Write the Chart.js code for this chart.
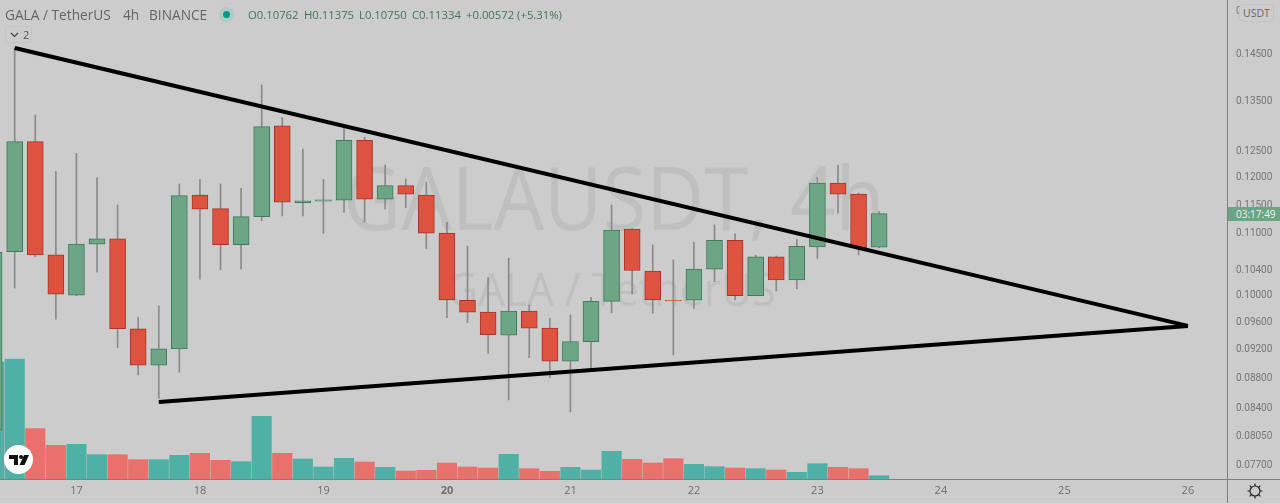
<!DOCTYPE html>
<html>
<head>
<meta charset="utf-8">
<title>GALA / TetherUS 4h</title>
<script src="https://cdn.jsdelivr.net/npm/chart.js@4/dist/chart.umd.min.js"></script>
<style>
    html, body { margin: 0; padding: 0; background: #cccccc; overflow: hidden; }
    body { width: 1280px; height: 504px; position: relative; font-family: "Open Sans", sans-serif; }
    canvas { position: absolute; left: 0; top: 0; z-index: 1; }
    .under { position: absolute; z-index: 0; white-space: nowrap; color: #bfbfbf; transform-origin: left center; }
    .over { position: absolute; z-index: 2; white-space: nowrap; }
    .head { top: 5px; font-size: 13.7px; line-height: 19px; color: #646464; }
    .ohlc { top: 6px; font-size: 11.3px; line-height: 17px; color: #3f7659; }
</style>
</head>
<body>
<div class="under" style="left:343px;top:146px;font-size:80px;line-height:100px;transform:scaleY(1.1);">GALAUSDT, 4h</div>
<div class="under" style="left:447px;top:259px;font-size:42.5px;line-height:60px;transform:scaleY(1.07);">GALA / TetherUS</div>

<canvas id="chart" width="1280" height="504"></canvas>

<div class="over" style="left:1227px;top:0;width:1px;height:504px;background:#7f7f7f;"></div>
<div class="over" style="left:0;top:479px;width:1280px;height:1px;background:#7f7f7f;"></div>
<div class="over" style="left:0;top:503px;width:1280px;height:1px;background:#d6d6d6;"></div>

<div class="over head" style="left:5px;">GALA / TetherUS</div>
<div class="over head" style="left:123px;">4h</div>
<div class="over head" style="left:149px;">BINANCE</div>
<div class="over" style="left:219px;top:7px;width:15px;height:15px;border-radius:50%;background:#b4c9c4;"></div>
<div class="over" style="left:223px;top:11px;width:7px;height:7px;border-radius:50%;background:#009e88;"></div>
<div class="over ohlc" style="left:248px;">O0.10762</div>
<div class="over ohlc" style="left:304px;">H0.11375</div>
<div class="over ohlc" style="left:359px;">L0.10750</div>
<div class="over ohlc" style="left:412px;">C0.11334</div>
<div class="over ohlc" style="left:466px;">+0.00572 (+5.31%)</div>

<div class="over" style="left:5px;top:26px;width:27px;height:17px;border:1px solid #c4c4c4;border-radius:3px;box-sizing:border-box;"></div>
<svg class="over" style="left:10px;top:31px;" width="10" height="8"><path d="M1 2 L4.5 5.5 L8 2" fill="none" stroke="#444" stroke-width="1.2"/></svg>
<div class="over" style="left:23px;top:27px;font-size:11px;line-height:15px;color:#555;">2</div>

<div class="over" style="left:1239px;top:4px;width:35px;height:18px;border:1px solid #c4c4c4;border-radius:4px;background:#cccccc;box-sizing:border-box;font-size:10.5px;line-height:17px;text-align:center;color:#666;">USDT</div>
<div class="over" style="left:1228px;top:207px;width:52px;height:14px;background:#6ba583;color:#f2f2f2;font-size:10px;line-height:14px;padding-left:8px;box-sizing:border-box;">03:17:49</div>

<svg class="over" style="left:4px;top:445px;" width="29" height="29" viewBox="0 0 29 29">
    <circle cx="14.5" cy="14.5" r="14.5" fill="#ffffff"/>
    <path d="M5 10 H14 V20 H10 V14 H5 Z" fill="#111"/>
    <circle cx="17" cy="12" r="2" fill="#111"/>
    <path d="M20 10 H25 L20.5 20 H15.5 Z" fill="#111"/>
</svg>
<svg class="over" style="left:1247px;top:483px;" width="16" height="16" viewBox="0 0 16 16">
    <circle cx="8" cy="8" r="5" fill="none" stroke="#222" stroke-width="1.2"/>
    <path d="M8 0.5 V3 M8 13 V15.5 M0.5 8 H3 M13 8 H15.5 M2.7 2.7 L4.4 4.4 M11.6 11.6 L13.3 13.3 M2.7 13.3 L4.4 11.6 M11.6 4.4 L13.3 2.7" stroke="#222" stroke-width="1.2"/>
</svg>

<script>
// candles start one slot before the first whole one, which sits cut off at the left edge
const opens = [0.08116, 0.10685, 0.12665, 0.10633, 0.09992, 0.10811, 0.10899, 0.09486, 0.08968, 0.09197, 0.11664, 0.11422, 0.10803, 0.11280, 0.12976, 0.11527, 0.11552, 0.11570, 0.12692, 0.11588, 0.11833, 0.11660, 0.10996, 0.09915, 0.09735, 0.09393, 0.09749, 0.09496, 0.09024, 0.09302, 0.09897, 0.11064, 0.10370, 0.09914, 0.09915, 0.10402, 0.10877, 0.09986, 0.10600, 0.10231, 0.10765, 0.11878, 0.11679, 0.10762];
const closes = [0.10680, 0.12665, 0.10633, 0.10008, 0.10811, 0.10899, 0.09490, 0.08968, 0.09197, 0.11652, 0.11411, 0.10803, 0.11280, 0.12962, 0.11534, 0.11557, 0.11575, 0.12692, 0.11588, 0.11833, 0.11679, 0.10996, 0.09920, 0.09735, 0.09402, 0.09749, 0.09496, 0.09024, 0.09302, 0.09900, 0.11049, 0.10380, 0.09920, 0.09904, 0.10402, 0.10877, 0.09986, 0.10600, 0.10231, 0.10777, 0.11878, 0.11679, 0.10753, 0.11334];
const highs = [0.10750, 0.14635, 0.13197, 0.12093, 0.12439, 0.11980, 0.11486, 0.09658, 0.09829, 0.11864, 0.11944, 0.11864, 0.11786, 0.13823, 0.13142, 0.12522, 0.11944, 0.12996, 0.12751, 0.12217, 0.11956, 0.11896, 0.11183, 0.10777, 0.10267, 0.10579, 0.09843, 0.09643, 0.09693, 0.09961, 0.11486, 0.11074, 0.10798, 0.10551, 0.10843, 0.11137, 0.10984, 0.10628, 0.10616, 0.10894, 0.11988, 0.12217, 0.11697, 0.11375];
const lows = [0.08000, 0.10100, 0.10605, 0.09629, 0.09985, 0.10354, 0.09217, 0.08836, 0.08523, 0.08872, 0.10242, 0.10391, 0.10402, 0.11211, 0.11292, 0.11292, 0.10996, 0.11356, 0.11183, 0.11416, 0.11438, 0.10738, 0.09652, 0.09578, 0.09136, 0.08501, 0.09074, 0.08799, 0.08345, 0.08881, 0.09726, 0.10008, 0.09719, 0.09112, 0.09789, 0.10204, 0.09920, 0.09986, 0.10059, 0.10091, 0.10572, 0.11340, 0.10633, 0.10750];
const volumes = [11.7, 12.0, 5.03, 3.37, 3.47, 2.43, 2.43, 1.93, 1.93, 2.37, 2.57, 1.87, 1.73, 6.27, 2.57, 2.0, 1.2, 2.07, 1.7, 1.17, 0.8, 0.87, 1.6, 1.2, 1.1, 2.47, 1.03, 0.77, 1.17, 0.9, 2.77, 1.97, 1.6, 2.03, 1.47, 1.23, 1.1, 1.03, 0.9, 0.67, 1.53, 1.17, 1.03, 0.33];

const upperTrendSlots = [0, 57];
const upperTrendPrices = [0.14635, 0.09530];
const lowerTrendSlots = [7, 57];
const lowerTrendPrices = [0.08475, 0.09530];

const priceTicks = [0.155, 0.145, 0.135, 0.125, 0.12, 0.115, 0.11, 0.104, 0.1, 0.096, 0.092, 0.088, 0.084, 0.0805, 0.077];
const dayTickSlots = [3, 9, 15, 21, 27, 33, 39, 45, 51, 57];
const dayLabels = ['17', '18', '19', '20', '21', '22', '23', '24', '25', '26'];

const slots = opens.map((_, i) => i - 1);
const isUp = slots.map((_, i) => closes[i] >= opens[i]);

function trendPoints(xs, ys) {
    return xs.map((x, i) => ({ x: x, y: ys[i] }));
}

new Chart(document.getElementById('chart').getContext('2d'), {
    type: 'bar',
    data: {
        datasets: [
            {
                type: 'line',
                label: 'Upper trend',
                order: 0,
                data: trendPoints(upperTrendSlots, upperTrendPrices),
                borderColor: '#000000',
                borderWidth: 4,
                pointRadius: 0,
                yAxisID: 'y'
            },
            {
                type: 'line',
                label: 'Lower trend',
                order: 0,
                data: trendPoints(lowerTrendSlots, lowerTrendPrices),
                borderColor: '#000000',
                borderWidth: 4,
                pointRadius: 0,
                yAxisID: 'y'
            },
            {
                label: 'Body',
                order: 1,
                data: slots.map((x, i) => ({ x: x, y: [opens[i], closes[i]] })),
                backgroundColor: isUp.map(up => up ? '#6ca684' : '#dd5340'),
                borderColor: isUp.map(up => up ? '#3e7a5c' : '#a5352a'),
                borderWidth: 1,
                borderSkipped: false,
                barThickness: 16,
                grouped: false,
                yAxisID: 'y'
            },
            {
                label: 'Wick',
                order: 2,
                data: slots.map((x, i) => ({ x: x, y: [lows[i], highs[i]] })),
                backgroundColor: '#8a8a8a',
                barThickness: 1,
                grouped: false,
                yAxisID: 'y'
            },
            {
                label: 'Volume',
                order: 3,
                data: slots.map((x, i) => ({ x: x, y: volumes[i] })),
                backgroundColor: isUp.map(up => up ? '#4fb0a6' : '#ea706c'),
                barThickness: 19.5,
                grouped: false,
                yAxisID: 'volume'
            }
        ]
    },
    options: {
        responsive: false,
        animation: false,
        layout: { padding: 0 },
        plugins: {
            legend: { display: false },
            tooltip: { enabled: false }
        },
        scales: {
            x: {
                type: 'linear',
                offset: false,
                bounds: 'data',
                min: -0.714,
                max: 58.9,
                grid: { display: false, drawTicks: false },
                border: { display: false },
                afterBuildTicks: scale => {
                    scale.ticks = dayTickSlots.map(v => ({ value: v }));
                },
                afterFit: scale => {
                    scale.height = 25;
                    scale.paddingLeft = 0;
                    scale.paddingRight = 0;
                },
                ticks: {
                    autoSkip: false,
                    maxRotation: 0,
                    padding: 5,
                    color: '#6e6e6e',
                    font: ctx => ({
                        family: '"Open Sans", sans-serif',
                        size: 11,
                        weight: dayLabels[ctx.index] === '20' ? 'bold' : 'normal'
                    }),
                    callback: value => dayLabels[dayTickSlots.indexOf(value)]
                }
            },
            y: {
                type: 'logarithmic',
                position: 'right',
                bounds: 'data',
                min: 0.07524,
                max: 0.1576,
                grid: { display: false, drawTicks: false },
                border: { display: false },
                afterBuildTicks: scale => {
                    scale.ticks = priceTicks.map(v => ({ value: v }));
                },
                afterFit: scale => {
                    scale.width = 53;
                    scale.paddingTop = 0;
                    scale.paddingBottom = 0;
                },
                ticks: {
                    autoSkip: false,
                    padding: 9,
                    labelOffset: 1,
                    color: '#767676',
                    font: { family: 'Roboto, sans-serif', size: 10 },
                    callback: value => value.toFixed(5)
                }
            },
            volume: {
                type: 'linear',
                display: false,
                min: 0,
                max: 47.9
            }
        }
    }
});
</script>
</body>
</html>
